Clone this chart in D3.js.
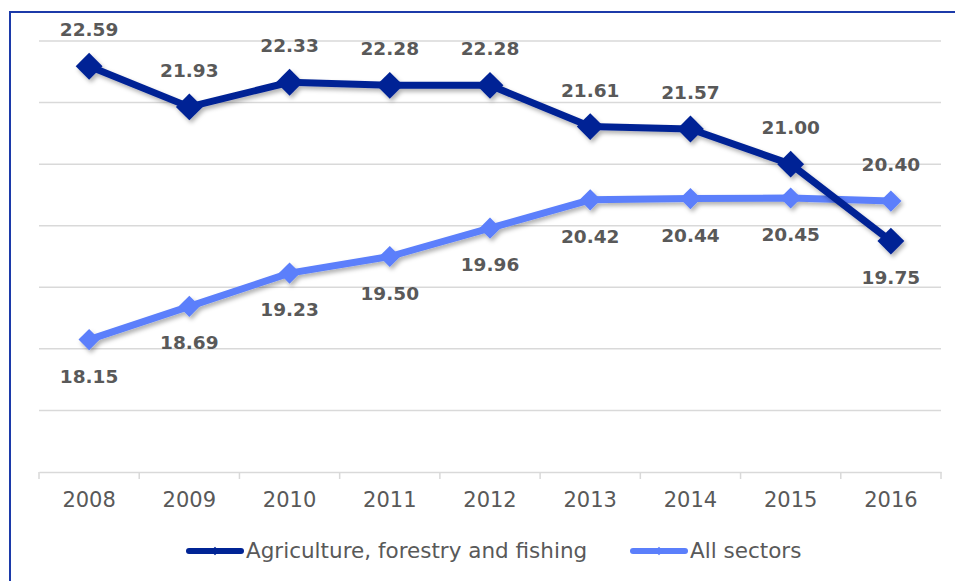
<!DOCTYPE html>
<meta charset="utf-8">
<script src="https://d3js.org/d3.v7.min.js"></script>
<style>
  body { margin: 0; background: #fff; }
</style>
<div id="chart"></div>
<script>
var years = ["2008", "2009", "2010", "2011", "2012", "2013", "2014", "2015", "2016"];
var agriValues = [22.59, 21.93, 22.33, 22.28, 22.28, 21.61, 21.57, 21.00, 19.75];
var allValues = [18.15, 18.69, 19.23, 19.50, 19.96, 20.42, 20.44, 20.45, 20.40];
var seriesNames = ["Agriculture, forestry and fishing", "All sectors"];
// which labels sit above the point (1) or below (0)
var agriAbove = [1, 1, 1, 1, 1, 1, 1, 1, 0];
var allAbove = [0, 0, 0, 0, 0, 0, 0, 0, 1];

var W = 955, H = 581;
var svg = d3.select("#chart").append("svg")
  .attr("width", W).attr("height", H)
  .style("font-family", "'DejaVu Sans', Verdana, sans-serif");

var defs = svg.append("defs");
var f = defs.append("filter").attr("id", "shadow")
  .attr("x", "-20%").attr("y", "-20%").attr("width", "140%").attr("height", "160%");
f.append("feDropShadow").attr("dx", 2).attr("dy", 3).attr("stdDeviation", 2)
  .attr("flood-color", "#000").attr("flood-opacity", 0.3);

// frame
svg.append("rect")
  .attr("x", 10).attr("y", 12).attr("width", 1000).attr("height", 1000)
  .attr("fill", "none").attr("stroke", "#1c3aa9").attr("stroke-width", 2);

var x = d3.scaleBand().domain(years).range([39, 941]);
var y = d3.scaleLinear().domain([16, 23]).range([472, 41]);

// grid
svg.append("g").selectAll("line")
  .data(d3.range(17, 24))
  .enter().append("line")
  .attr("x1", 39).attr("x2", 941)
  .attr("y1", function(d) { return y(d); })
  .attr("y2", function(d) { return y(d); })
  .attr("stroke", "#d9d9d9").attr("stroke-width", 1.5);

// x axis
var xAxis = svg.append("g")
  .attr("transform", "translate(0," + y(16) + ")")
  .call(d3.axisBottom(x).tickSize(0).tickPadding(20));
xAxis.select(".domain").attr("stroke", "#d9d9d9").attr("stroke-width", 1.5);
xAxis.selectAll("text")
  .style("font-family", "'DejaVu Sans', Verdana, sans-serif")
  .style("font-size", "21px").attr("fill", "#595959");
svg.append("g").selectAll("line")
  .data(d3.range(years.length + 1))
  .enter().append("line")
  .attr("x1", function(i) { return 39 + i * x.step(); })
  .attr("x2", function(i) { return 39 + i * x.step(); })
  .attr("y1", y(16)).attr("y2", y(16) + 7)
  .attr("stroke", "#d9d9d9").attr("stroke-width", 1.5);

function cx(i) { return x(years[i]) + x.bandwidth() / 2; }

function drawSeries(values, color, side, above) {
  var g = svg.append("g").attr("filter", "url(#shadow)");
  var line = d3.line()
    .x(function(d, i) { return cx(i); })
    .y(function(d) { return y(d); });
  g.append("path").datum(values)
    .attr("d", line)
    .attr("fill", "none").attr("stroke", color)
    .attr("stroke-width", 7).attr("stroke-linejoin", "round");
  g.selectAll("rect").data(values).enter().append("rect")
    .attr("x", -side / 2).attr("y", -side / 2)
    .attr("width", side).attr("height", side)
    .attr("transform", function(d, i) { return "translate(" + cx(i) + "," + y(d) + ") rotate(45)"; })
    .attr("fill", color);
  svg.append("g").selectAll("text").data(values).enter().append("text")
    .attr("x", function(d, i) { return cx(i); })
    .attr("y", function(d, i) { return y(d) + (above[i] ? -30 : 43); })
    .attr("text-anchor", "middle")
    .style("font-size", "18.5px").style("font-weight", "bold")
    .attr("fill", "#595959")
    .text(function(d) { return d.toFixed(2); });
}

drawSeries(allValues, "#5b7ffb", 15, allAbove);
drawSeries(agriValues, "#002495", 19, agriAbove);

// legend
var legend = [
  { name: seriesNames[0], color: "#002495", x: 189 },
  { name: seriesNames[1], color: "#5b7ffb", x: 633 }
];
var lg = svg.append("g").selectAll("g").data(legend).enter().append("g")
  .attr("transform", function(d) { return "translate(" + d.x + ",551)"; });
lg.append("line").attr("x1", 0).attr("x2", 52)
  .attr("stroke", function(d) { return d.color; })
  .attr("stroke-width", 6).attr("stroke-linecap", "round");
lg.append("rect").attr("x", -3).attr("y", -3).attr("width", 6).attr("height", 6)
  .attr("transform", "translate(26,0) rotate(45)")
  .attr("fill", function(d) { return d.color; });
lg.append("text").attr("x", 57).attr("y", 7)
  .style("font-size", "21.5px").attr("fill", "#595959")
  .text(function(d) { return d.name; });
</script>
